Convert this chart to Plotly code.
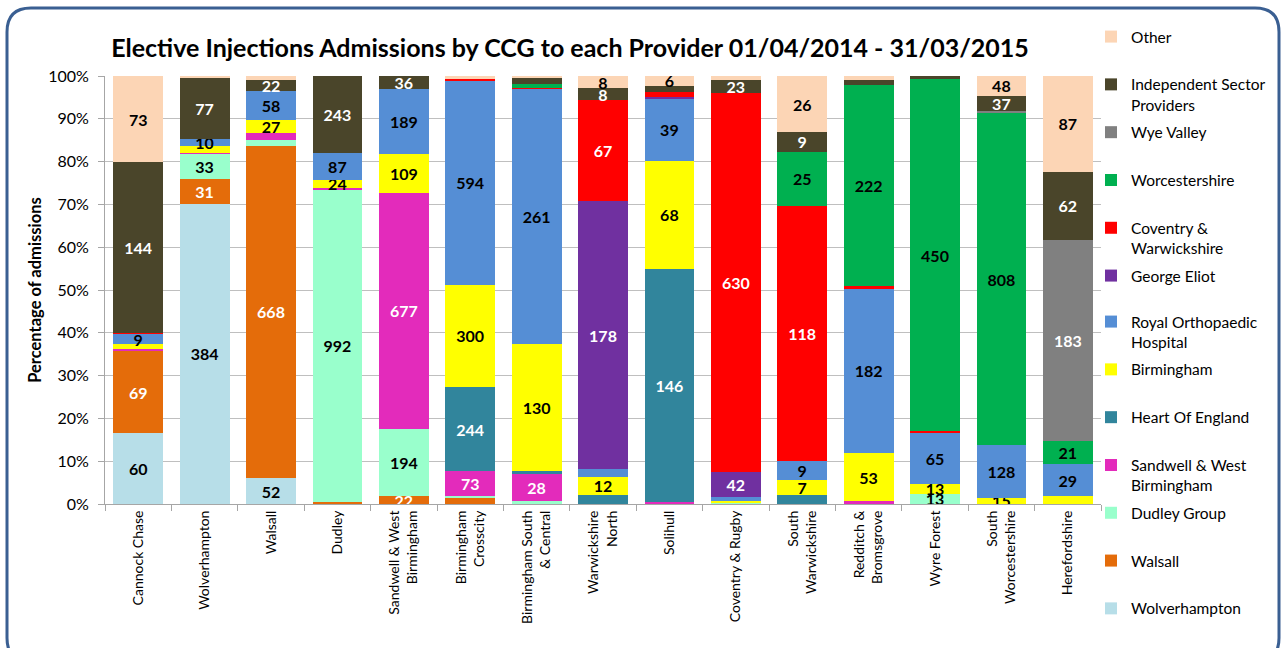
import plotly.graph_objects as go

categories = ["Cannock Chase", "Wolverhampton", "Walsall", "Dudley",
              "Sandwell & West<br>Birmingham", "Birmingham<br>Crosscity",
              "Birmingham South<br>& Central", "Warwickshire<br>North", "Solihull",
              "Coventry & Rugby", "South<br>Warwickshire", "Redditch &<br>Bromsgrove",
              "Wyre Forest", "South<br>Worcestershire", "Herefordshire"]

# admissions per CCG (bars) for each provider (stack segments, bottom to top)
wolverhampton = [60, 384, 52, 2, 0, 0, 0, 0, 0, 0, 0, 0, 0, 0, 0]
walsall       = [69, 31, 668, 3, 22, 17, 0, 0, 0, 0, 0, 1, 0, 0, 0]
dudley_group  = [0, 33, 11, 992, 194, 6, 3, 0, 0, 1, 0, 0, 13, 0, 0]
sandwell      = [2, 1, 14, 5, 677, 73, 28, 0, 1, 0, 0, 2, 0, 0, 0]
heart_england = [0, 0, 0, 0, 0, 244, 3, 6, 146, 0, 4, 0, 0, 0, 0]
birmingham    = [4, 8, 27, 24, 109, 300, 130, 12, 68, 4, 7, 53, 13, 15, 7]
royal_ortho   = [9, 10, 58, 87, 189, 594, 261, 5, 39, 7, 9, 182, 65, 128, 29]
george_eliot  = [0, 0, 0, 0, 0, 0, 0, 178, 1, 42, 0, 0, 0, 0, 0]
coventry_warw = [1, 0, 0, 0, 0, 4, 1, 67, 3, 630, 118, 3, 2, 0, 0]
worcestershire = [0, 0, 0, 0, 0, 0, 4, 0, 0, 0, 25, 222, 450, 808, 21]
wye_valley    = [0, 0, 0, 0, 0, 0, 0, 0, 0, 0, 0, 0, 0, 6, 183]
independent   = [144, 77, 22, 243, 36, 0, 6, 8, 4, 23, 9, 6, 4, 37, 62]
other         = [73, 3, 8, 0, 0, 10, 2, 8, 6, 6, 26, 4, 0, 48, 87]

# which bars carry a visible data label for each provider
lbl_wolverhampton = [0, 1, 2]
lbl_walsall = [0, 1, 2, 4]
lbl_dudley_group = [1, 3, 4, 12]
lbl_sandwell = [4, 5, 6]
lbl_heart_england = [5, 8]
lbl_birmingham = [2, 3, 4, 5, 6, 7, 8, 10, 11, 12, 13]
lbl_royal_ortho = [0, 1, 2, 3, 4, 5, 6, 8, 10, 11, 12, 13, 14]
lbl_george_eliot = [7, 9]
lbl_coventry_warw = [7, 9, 10]
lbl_worcestershire = [10, 11, 12, 13, 14]
lbl_wye_valley = [14]
lbl_independent = [0, 1, 2, 3, 4, 7, 9, 10, 13, 14]
lbl_other = [0, 7, 8, 10, 13, 14]

series = [
    ("Wolverhampton", wolverhampton, lbl_wolverhampton, "#B7DEE8", "black", "legend2"),
    ("Walsall", walsall, lbl_walsall, "#E46C0A", "white", "legend2"),
    ("Dudley Group", dudley_group, lbl_dudley_group, "#99FFCC", "black", "legend2"),
    ("Sandwell & West<br>Birmingham", sandwell, lbl_sandwell, "#E32BBB", "white", "legend2"),
    ("Heart Of England", heart_england, lbl_heart_england, "#31859C", "white", "legend2"),
    ("Birmingham", birmingham, lbl_birmingham, "#FFFF00", "black", "legend2"),
    ("Royal Orthopaedic<br>Hospital", royal_ortho, lbl_royal_ortho, "#558ED5", "black", "legend2"),
    ("George Eliot", george_eliot, lbl_george_eliot, "#7030A0", "white", "legend"),
    ("Coventry &<br>Warwickshire", coventry_warw, lbl_coventry_warw, "#FF0000", "white", "legend"),
    ("Worcestershire", worcestershire, lbl_worcestershire, "#00B050", "black", "legend"),
    ("Wye Valley", wye_valley, lbl_wye_valley, "#808080", "white", "legend"),
    ("Independent Sector<br>Providers", independent, lbl_independent, "#4A452A", "white", "legend"),
    ("Other", other, lbl_other, "#FCD5B5", "black", "legend"),
]

FONT = "Lato"
n = len(series)
fig = go.Figure()
for i, (name, vals, shown, color, tcolor, leg) in enumerate(series):
    texts = [str(v) if j in shown else "" for j, v in enumerate(vals)]
    legend_name = name if "<br>" in name else name + "<br>\u00a0"
    fig.add_trace(go.Bar(
        x=categories, y=vals, name=legend_name, legend=leg, legendrank=n - i,
        marker=dict(color=color, line=dict(width=0)),
        text=texts, texttemplate="%{text}",
        textposition="inside", insidetextanchor="middle", textangle=0,
        textfont=dict(family=FONT, size=16, color=tcolor, weight="bold"),
        legendgroup=f"g{i}", hoverinfo="name+y",
    ))

W, H = 1281, 648
L, R, T, B = 105, 180, 76, 144
pw, ph = W - L - R, H - T - B


def px(x, y):
    return (x - L) / pw, (H - B - y) / ph


# rounded outer frame (decoration)
x0, y0, x1, y1, rad = 7, 8, 1279, 662, 24
pts = [px(x0 + rad, y0), px(x1 - rad, y0), px(x1, y0), px(x1, y0 + rad), px(x1, y1 - rad),
       px(x1, y1), px(x1 - rad, y1), px(x0 + rad, y1), px(x0, y1), px(x0, y1 - rad),
       px(x0, y0 + rad), px(x0, y0)]
path = (f"M {pts[0][0]},{pts[0][1]} L {pts[1][0]},{pts[1][1]} Q {pts[2][0]},{pts[2][1]} {pts[3][0]},{pts[3][1]} "
        f"L {pts[4][0]},{pts[4][1]} Q {pts[5][0]},{pts[5][1]} {pts[6][0]},{pts[6][1]} "
        f"L {pts[7][0]},{pts[7][1]} Q {pts[8][0]},{pts[8][1]} {pts[9][0]},{pts[9][1]} "
        f"L {pts[10][0]},{pts[10][1]} Q {pts[11][0]},{pts[11][1]} {pts[0][0]},{pts[0][1]} Z")

legend_common = dict(x=px(1101, 0)[0], xanchor="left", yanchor="top", traceorder="grouped",
                     valign="top", tracegroupgap=4.5, indentation=-10,
                     font=dict(family=FONT, size=15.5), bgcolor="rgba(0,0,0,0)")

fig.update_layout(
    width=W, height=H,
    margin=dict(l=L, r=R, t=T, b=B, autoexpand=False),
    barmode="stack", barnorm="percent", bargap=0.25,
    paper_bgcolor="white", plot_bgcolor="white",
    font=dict(family=FONT, size=15, color="black"),
    uniformtext=dict(minsize=16, mode="show"),
    title=dict(text="<b>Elective Injections Admissions by CCG to each Provider 01/04/2014 - 31/03/2015</b>",
               x=570 / W, xanchor="center", y=1 - 48 / H, yanchor="middle",
               font=dict(family=FONT, size=25, color="black")),
    xaxis=dict(tickangle=-90, showline=True, linecolor="#A6A6A6", linewidth=1,
               ticks="outside", ticklen=6, tickcolor="#A6A6A6", tickson="boundaries",
               tickfont=dict(family=FONT, size=14), automargin=False),
    yaxis=dict(range=[0, 100], dtick=10, ticksuffix="%", showgrid=True, gridcolor="#BFBFBF",
               showline=True, linecolor="#A6A6A6", linewidth=1, ticks="outside", ticklen=6,
               tickcolor="#A6A6A6", tickfont=dict(family=FONT, size=16), automargin=False,
               ticklabelstandoff=6,
               title=dict(text="<b>Percentage of admissions</b>", standoff=2,
                          font=dict(family=FONT, size=16.5))),
    legend=dict(y=px(0, 20)[1], **legend_common),
    legend2=dict(y=px(0, 305)[1], **legend_common),
    shapes=[dict(type="path", xref="paper", yref="paper", path=path,
                 line=dict(color="#3A5F92", width=3), layer="above")],
)

fig.write_html("out.html", post_script="document.body.style.margin='0px';",
               config={"displayModeBar": False})
